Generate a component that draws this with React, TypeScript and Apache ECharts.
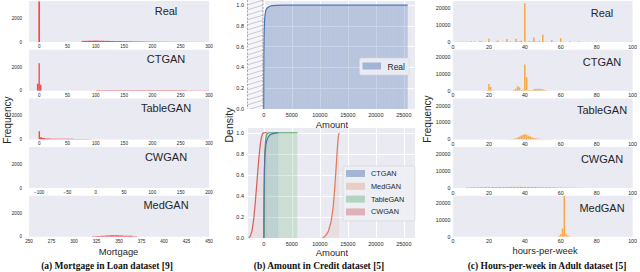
import React, { useEffect, useRef } from 'react';
import * as echarts from 'echarts';

// ---------- Panel (a): Mortgage in Loan dataset — histogram bins [start, end, count]
const mortgageReal = [
  [-1.5, 1.5, 3462],
  [75, 85, 95], [85, 95, 110], [95, 105, 120], [105, 115, 105], [115, 125, 95], [125, 135, 80],
  [135, 145, 72], [145, 155, 64], [155, 165, 55], [165, 175, 45], [175, 185, 38], [185, 195, 30],
  [195, 205, 26], [205, 215, 22], [215, 225, 20], [225, 235, 14], [235, 245, 12], [245, 255, 10],
  [255, 265, 9], [265, 275, 7], [275, 285, 6], [285, 295, 5],
];
const mortgageCtgan = [
  [-4, -1.2, 600], [-1.2, 1.2, 2350], [1.2, 4, 500],
  [100, 120, 30], [120, 140, 35], [140, 160, 40], [160, 180, 38], [180, 200, 35],
  [200, 220, 32], [220, 240, 30], [240, 260, 28], [260, 280, 25], [280, 300, 22],
];
const mortgageTablegan = [
  [-1, 1.5, 700], [1.5, 5, 180], [5, 10, 110], [10, 20, 75], [20, 30, 65], [30, 40, 58],
  [40, 50, 52], [50, 60, 48], [60, 70, 44], [70, 80, 40], [80, 90, 35],
];
const mortgageCwgan = [
  [-20, -10, 8], [-10, 0, 10], [0, 10, 12], [10, 20, 10],
];
const mortgageMedgan = [
  [320, 325, 40], [325, 330, 70], [330, 335, 100], [335, 340, 120], [340, 345, 130],
  [345, 350, 125], [350, 355, 115], [355, 360, 100], [360, 365, 80], [365, 370, 45],
];
const mortgageXRanges = [[-18, 300, 50], [-18, 300, 50], [-18, 300, 50], [-118, 200, 50], [250, 450, 25]];
const mortgageYMax = 3500;
const mortgageYStep = 2000;

// ---------- Panel (b): Amount in Credit dataset — cumulative density curves
const amountRealX = [0, 2, 8, 22, 50, 77, 130, 203, 300, 365, 550, 800, 1018, 1500, 2200, 3500, 25691];
const amountRealY = [0, 0.12, 0.3, 0.5, 0.65, 0.75, 0.84, 0.9, 0.93, 0.95, 0.97, 0.98, 0.99, 0.995, 0.998, 1.0, 1.0];
const amountCtganX = [0, 10, 40, 100, 200, 350, 550, 800, 1100, 1500, 2000, 2600];
const amountCtganY = [0, 0.2, 0.45, 0.65, 0.8, 0.88, 0.93, 0.96, 0.98, 0.99, 0.997, 1.0];
const amountTableganX = [60, 80, 120, 180, 260, 360, 480, 650, 900, 6000];
const amountTableganY = [0, 0.3, 0.6, 0.8, 0.9, 0.95, 0.98, 0.995, 1.0, 1.0];
const amountCwganX = [-2700, -2400, -2100, -1800, -1500, -1200, -900, -650, -450, -250, 0, 600];
const amountCwganY = [0, 0.02, 0.07, 0.18, 0.35, 0.55, 0.75, 0.88, 0.95, 0.99, 1.0, 1.0];
const amountMedganX = [10500, 11000, 11500, 12000, 12400, 12700, 12950, 13150, 13300, 13450];
const amountMedganY = [0, 0.02, 0.06, 0.15, 0.3, 0.5, 0.7, 0.87, 0.96, 1.0];
const amountHatch = [-3000, -180];
const amountXRange = [-3000, 27000, 5000];
const densityRange = [0, 1.05, 0.2];

// ---------- Panel (c): Hours-per-week in Adult dataset — [hour, count]
const hoursReal = [
  [1, 27], [2, 53], [3, 59], [4, 84], [5, 95], [6, 92], [7, 45], [8, 232], [9, 28], [10, 420],
  [12, 257], [14, 55], [15, 608], [16, 300], [18, 112], [20, 1862], [22, 64], [24, 364], [25, 958],
  [27, 44], [28, 138], [30, 1700], [32, 390], [33, 56], [35, 1937], [36, 329], [37, 229], [38, 680],
  [39, 56], [40, 22803], [41, 50], [42, 340], [43, 226], [44, 310], [45, 2717], [46, 125], [47, 70],
  [48, 770], [49, 43], [50, 4246], [52, 210], [54, 60], [55, 1051], [56, 140], [58, 40], [60, 2177],
  [62, 50], [65, 370], [66, 20], [70, 437], [72, 95], [75, 100], [80, 200], [84, 70], [90, 40], [99, 130],
];
const hoursCtgan = [
  [19, 300], [20, 4000], [21, 2200], [22, 150], [33, 150], [34, 500], [35, 1200], [36, 2700],
  [37, 2000], [38, 400], [39, 600], [40, 15500], [41, 8000], [42, 300], [43, 200], [44, 400],
  [45, 800], [46, 1000], [47, 1100], [48, 1100], [49, 1000], [50, 800], [51, 400], [52, 150],
];
const hoursTablegan = [
  [30, 100], [31, 150], [32, 200], [33, 300], [34, 450], [35, 700], [36, 1000], [37, 1500],
  [38, 2200], [39, 2800], [40, 3000], [41, 2700], [42, 2200], [43, 1700], [44, 1200], [45, 900],
  [46, 700], [47, 500], [48, 400], [49, 300], [50, 250], [51, 200], [52, 150], [53, 120], [54, 100], [55, 80],
];
const hoursCwgan = [
  [8, 350], [10, 420], [12, 450], [14, 480], [16, 500], [18, 520], [20, 560], [22, 580], [24, 600],
  [26, 620], [28, 640], [30, 660], [32, 680], [34, 700], [36, 700], [38, 720], [40, 700], [42, 690],
  [44, 670], [46, 640], [48, 600], [50, 560], [52, 500], [54, 450], [56, 400], [58, 350], [60, 300],
  [62, 260], [64, 220], [66, 180], [68, 150], [70, 120], [72, 90],
];
const hoursMedgan = [[59, 600], [60, 1500], [61, 4900], [62, 24200], [63, 1500], [64, 700], [65, 300]];
const hoursBinWidths = [1, 1, 1, 2, 1];
const hoursXRange = [0, 100, 20];
const hoursYMax = 24200;
const hoursYStep = 10000;

const subplotNames = ['Real', 'CTGAN', 'TableGAN', 'CWGAN', 'MedGAN'];
const creditModels = ['CTGAN', 'MedGAN', 'TableGAN', 'CWGAN'];
const captions = [
  '(a) Mortgage in Loan dataset [9]',
  '(b) Amount in Credit dataset [5]',
  '(c) Hours-per-week in Adult dataset [5]',
];

// ---------- styling
const FONT = "'Liberation Sans', Arial, sans-serif";
const SERIF = "'Liberation Serif', 'Times New Roman', serif";
const BG = '#EAEAF2';
const TXT = '#262626';
const RED = 'rgba(255,0,0,0.7)';
const ORANGE = 'rgba(255,140,0,0.72)';
const C_BLUE = '#4C72B0';
const C_ORANGE = '#E0795A';
const C_GREEN = '#55A868';
const C_RED = '#D0605E';

const zip = (xs: number[], ys: number[]) => xs.map((x, i) => [x, ys[i]]);

const onStep = (step: number, digits = 0) => (v: number) => {
  const k = v / step;
  if (Math.abs(k - Math.round(k)) > 1e-6) return '';
  return (Math.round(k) * step).toFixed(digits).replace('-', '\u2212');
};

function valueAxis(gridIndex: number, min: number, max: number, step: number, fontSize: number,
  margin: number, digits = 0, split = false) {
  return {
    type: 'value', gridIndex, min, max, minInterval: step, maxInterval: step,
    axisLine: { show: false }, axisTick: { show: false },
    splitLine: { show: split, lineStyle: { color: '#ffffff', width: 1 } },
    axisLabel: {
      fontSize, margin, color: TXT, fontFamily: FONT, formatter: onStep(step, digits),
      showMinLabel: true, showMaxLabel: true,
    },
  };
}

function binSeries(ai: number, data: number[][], color: string) {
  return {
    type: 'custom', xAxisIndex: ai, yAxisIndex: ai, clip: true, silent: true,
    data, encode: { x: [0, 1], y: 2 },
    renderItem: (_p: any, api: any) => {
      const p0 = api.coord([api.value(0), api.value(2)]);
      const p1 = api.coord([api.value(1), 0]);
      return {
        type: 'rect',
        shape: { x: p0[0], y: p0[1], width: Math.max(p1[0] - p0[0], 0.6), height: Math.max(p1[1] - p0[1], 0) },
        style: { fill: color },
      };
    },
  };
}

function stripeSeries(ai: number, x0: number, x1: number, top: number) {
  return {
    type: 'custom', xAxisIndex: ai, yAxisIndex: ai, clip: true, silent: true,
    data: [[x0, x1, top]], encode: { x: [0, 1], y: 2 },
    renderItem: (_p: any, api: any) => {
      const a = api.coord([api.value(0), api.value(2)]);
      const b = api.coord([api.value(1), 0]);
      const children: any[] = [];
      for (let x = a[0] + 1.3; x < b[0]; x += 2.6) {
        children.push({ type: 'line', shape: { x1: x, y1: a[1] + 1, x2: x, y2: b[1] },
          style: { stroke: 'rgba(255,255,255,0.35)', lineWidth: 0.6 } });
      }
      return { type: 'group', children };
    },
  };
}

function hatchSeries(ai: number, x0: number, x1: number) {
  return {
    type: 'custom', xAxisIndex: ai, yAxisIndex: ai, clip: true, silent: true,
    data: [[x0, x1, 0]], encode: { x: [0, 1], y: 2 },
    renderItem: (params: any, api: any) => {
      const cs = params.coordSys;
      const a = api.coord([api.value(0), 0])[0];
      const b = api.coord([api.value(1), 0])[0];
      const top = cs.y, bot = cs.y + cs.height;
      const children: any[] = [
        { type: 'rect', shape: { x: a, y: top, width: b - a, height: bot - top }, style: { fill: '#F6F6FA' } },
      ];
      const rise = (b - a) * 0.3;
      for (let y = top; y < bot + rise; y += 5) {
        children.push({ type: 'line', shape: { x1: a, y1: y, x2: b, y2: y - rise },
          style: { stroke: '#9a9aa2', lineWidth: 0.5 } });
      }
      children.push({ type: 'line', shape: { x1: a + 0.5, y1: top, x2: a + 0.5, y2: bot },
        style: { stroke: '#888', lineWidth: 0.7, lineDash: [2, 1.5] } });
      children.push({ type: 'line', shape: { x1: b, y1: top, x2: b, y2: bot },
        style: { stroke: '#888', lineWidth: 0.7, lineDash: [2, 1.5] } });
      return { type: 'group', children };
    },
  };
}

function cdfLine(ai: number, xs: number[], ys: number[], color: string, fill: string) {
  return {
    type: 'line', xAxisIndex: ai, yAxisIndex: ai, data: zip(xs, ys), symbol: 'none', silent: true,
    lineStyle: { color, width: 1.2 }, areaStyle: { color: fill }, clip: true,
  };
}

function text(t: string, x: number, y: number, font: string, extra: any = {}) {
  return {
    type: 'text', x, y, z: 100, ...extra,
    style: { text: t, font, fill: TXT, align: 'center', verticalAlign: 'middle',
      textAlign: 'center', textVerticalAlign: 'middle', ...(extra.style || {}) },
  };
}

function buildOption() {
  const grids: any[] = [];
  const xAxes: any[] = [];
  const yAxes: any[] = [];
  const series: any[] = [];
  const graphic: any[] = [];

  const rowTops = [1, 49.7, 98.4, 147.1, 195.8];
  const rowH = 41;
  const gridBase = { show: true, backgroundColor: BG, borderWidth: 0, containLabel: false };

  // (a)
  const mortgageSets = [mortgageReal, mortgageCtgan, mortgageTablegan, mortgageCwgan, mortgageMedgan];
  mortgageSets.forEach((data, i) => {
    const gi = grids.length;
    grids.push({ ...gridBase, left: 29, top: rowTops[i], width: 180, height: rowH });
    const [mn, mx, st] = mortgageXRanges[i];
    xAxes.push(valueAxis(gi, mn, mx, st, 4.6, 2));
    yAxes.push(valueAxis(gi, 0, mortgageYMax, mortgageYStep, 4.6, 7));
    series.push(binSeries(gi, data, RED));
    graphic.push(text(subplotNames[i], 166, rowTops[i] + 9.5, `11px ${FONT}`));
  });

  // (b) top
  const gTop = grids.length;
  grids.push({ ...gridBase, left: 247, top: 0, width: 168, height: 109 });
  xAxes.push(valueAxis(gTop, amountXRange[0], amountXRange[1], amountXRange[2], 5.5, 3, 0, true));
  yAxes.push(valueAxis(gTop, densityRange[0], densityRange[1], densityRange[2], 5.5, 3, 1, true));
  series.push(hatchSeries(gTop, amountHatch[0], amountHatch[1]));
  series.push(cdfLine(gTop, amountRealX, amountRealY, C_BLUE, 'rgba(76,114,176,0.45)'));
  series.push(stripeSeries(gTop, amountRealX[0], amountRealX[amountRealX.length - 1], amountRealY[amountRealY.length - 1]));

  // (b) bottom
  const gBot = grids.length;
  grids.push({ ...gridBase, left: 247, top: 127.5, width: 168, height: 110.5 });
  xAxes.push(valueAxis(gBot, amountXRange[0], amountXRange[1], amountXRange[2], 5.5, 3, 0, true));
  yAxes.push(valueAxis(gBot, densityRange[0], densityRange[1], densityRange[2], 5.5, 3, 1, true));
  series.push(cdfLine(gBot, amountTableganX, amountTableganY, C_GREEN, 'rgba(85,168,104,0.3)'));
  series.push(stripeSeries(gBot, amountTableganX[0], amountTableganX[amountTableganX.length - 1], amountTableganY[amountTableganY.length - 1]));
  series.push(cdfLine(gBot, amountCtganX, amountCtganY, C_BLUE, 'rgba(76,114,176,0.15)'));
  series.push(cdfLine(gBot, amountCwganX, amountCwganY, C_RED, 'rgba(221,132,120,0.16)'));
  series.push(cdfLine(gBot, amountMedganX, amountMedganY, C_ORANGE, 'rgba(221,132,100,0.18)'));

  // (c)
  const hoursSets = [hoursReal, hoursCtgan, hoursTablegan, hoursCwgan, hoursMedgan];
  hoursSets.forEach((data, i) => {
    const gi = grids.length;
    grids.push({ ...gridBase, left: 453, top: rowTops[i], width: 182, height: rowH });
    xAxes.push(valueAxis(gi, hoursXRange[0], hoursXRange[1], hoursXRange[2], 5.3, 2));
    yAxes.push(valueAxis(gi, 0, hoursYMax, hoursYStep, 5.3, 2.5));
    const w = hoursBinWidths[i];
    const bins = data.map(([h, c]) => [h - w * 0.42, h + w * 0.42, c]);
    series.push(binSeries(gi, bins, ORANGE));
    graphic.push(text(subplotNames[i], 602, rowTops[i] + 12, `11px ${FONT}`));
  });

  // axis names
  graphic.push(text('Frequency', 7, 120, `10px ${FONT}`, { rotation: Math.PI / 2 }));
  graphic.push(text('Density', 228.5, 125, `10.5px ${FONT}`, { rotation: Math.PI / 2 }));
  graphic.push(text('Frequency', 427, 119, `10px ${FONT}`, { rotation: Math.PI / 2 }));
  graphic.push(text('Mortgage', 118.5, 251, `9.4px ${FONT}`));
  graphic.push(text('Amount', 332, 124.5, `9.4px ${FONT}`));
  graphic.push(text('Amount', 332, 252.5, `9.4px ${FONT}`));
  graphic.push(text('hours-per-week', 545, 250.7, `9.4px ${FONT}`));

  // captions
  graphic.push(text(captions[0], 107, 266, `bold 9.5px ${SERIF}`, { style: { fill: '#111' } }));
  graphic.push(text(captions[1], 319, 266, `bold 9.5px ${SERIF}`, { style: { fill: '#111' } }));
  graphic.push(text(captions[2], 547, 266, `bold 9.5px ${SERIF}`, { style: { fill: '#111' } }));

  // legend (b) top
  graphic.push({ type: 'rect', z: 90, shape: { x: 359.5, y: 58, width: 49.5, height: 17, r: 2 },
    style: { fill: 'rgba(238,238,245,0.9)', stroke: '#d4d4dc', lineWidth: 0.6 } });
  graphic.push({ type: 'rect', z: 91, shape: { x: 362.5, y: 62.5, width: 18.5, height: 7 },
    style: { fill: 'rgba(76,114,176,0.45)' } });
  graphic.push(text('Real', 387.5, 66.5, `8.5px ${FONT}`, { style: { align: 'left', textAlign: 'left' } }));

  // legend (b) bottom
  const legendFills = ['rgba(76,114,176,0.45)', 'rgba(221,132,82,0.3)', 'rgba(85,168,104,0.38)', 'rgba(196,78,82,0.38)'];
  graphic.push({ type: 'rect', z: 90, shape: { x: 343, y: 166, width: 72, height: 55, r: 2 },
    style: { fill: 'rgba(238,238,245,0.9)', stroke: '#d4d4dc', lineWidth: 0.6 } });
  creditModels.forEach((name, i) => {
    const y = 173.5 + i * 12.8;
    graphic.push({ type: 'rect', z: 91, shape: { x: 346, y: y - 3.5, width: 19, height: 7 },
      style: { fill: legendFills[i] } });
    graphic.push(text(name, 371, y, `7.3px ${FONT}`, { style: { align: 'left', textAlign: 'left' } }));
  });

  return {
    animation: false,
    backgroundColor: '#ffffff',
    textStyle: { fontFamily: FONT },
    grid: grids,
    xAxis: xAxes,
    yAxis: yAxes,
    series,
    graphic: { elements: graphic },
  };
}

export default function App() {
  const ref = useRef<HTMLDivElement>(null);
  useEffect(() => {
    document.body.style.margin = '0';
    const chart = echarts.init(ref.current as HTMLDivElement, undefined, { renderer: 'svg' });
    chart.setOption(buildOption() as any);
    return () => chart.dispose();
  }, []);
  return <div ref={ref} style={{ width: 640, height: 272 }} />;
}
